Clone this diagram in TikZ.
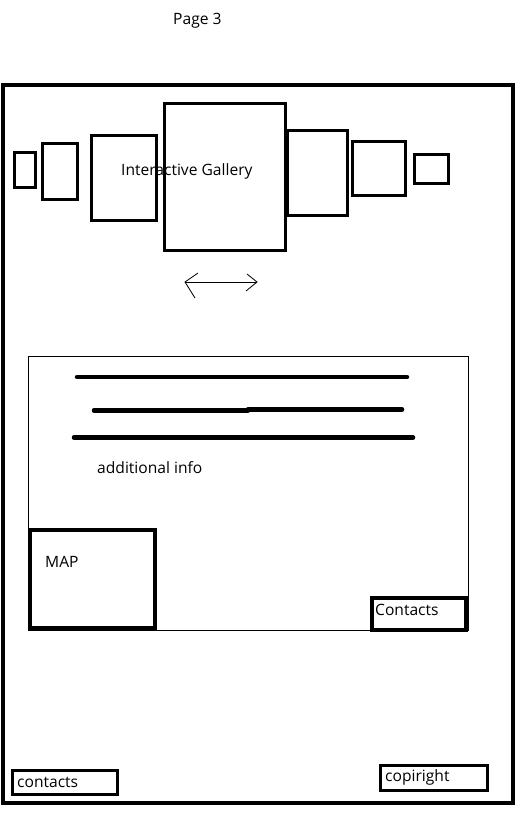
\documentclass[tikz,border=0pt]{standalone}
\usepackage{fontspec}
\setmainfont{Open Sans}
\begin{document}
\begin{tikzpicture}[x=1pt,y=-1pt,
  lbl/.style={anchor=base west,inner sep=0pt,font=\fontsize{15.6}{18}\selectfont},
  bar/.style={line width=4.5pt,line cap=round}]
\useasboundingbox (0,0) rectangle (521,816);
% page title
\node[lbl] (title) at (173,25) {Page 3};
% outer frame
\draw[line width=4pt] (2.5,84.5) rectangle (512.5,802.5);
% gallery frames
\draw[line width=3pt] (14.5,152) rectangle (35,187.5) coordinate (g1);
\draw[line width=3pt] (42.5,143) rectangle (77.5,199.5) coordinate (g2);
\draw[line width=3pt] (91.5,135.5) rectangle (156.5,220) coordinate (g3);
\draw[line width=3pt] (164.5,103.5) rectangle (285.5,250.5) coordinate (g4);
\draw[line width=3pt] (287.5,130.5) rectangle (347.5,215) coordinate (g5);
\draw[line width=3pt] (352.5,141.5) rectangle (405.5,195.5) coordinate (g6);
\draw[line width=3pt] (414,154) rectangle (448.5,183) coordinate (g7);
\node[lbl] (gal) at (121,175) {Interactive Gallery};
% scroll arrow
\coordinate (al) at (185,282);
\coordinate (ar) at (257,282);
\draw[line width=1pt] (al) -- (ar);
\draw[line width=0.8pt] (198,273) -- (al) -- (195,298);
\draw[line width=0.8pt] (247,274) -- (ar) -- (246,291);
% info box
\draw[line width=1pt] (28.5,356.5) rectangle (468.5,630);
\draw[bar] (77,377) -- (407,377);
\draw[bar] (94,410.5) -- (248,410.5);
\draw[bar] (248,409.5) -- (402,409.5);
\draw[bar] (74,437.5) -- (413,437.5);
\node[lbl] (info) at (97,473) {additional info};
% map
\draw[line width=4pt] (30,530) rectangle (155,628);
\node[lbl] (map) at (45,567) {MAP};
% contacts box
\draw[line width=4pt] (372,598) rectangle (466,630);
\node[lbl] (cont) at (375,615) {Contacts};
% footer
\draw[line width=3pt] (12.5,770.5) rectangle (117,794);
\node[lbl] (fcont) at (17,787.5) {contacts};
\draw[line width=3pt] (380.5,765) rectangle (487,790.5);
\node[lbl] (copy) at (385,781.5) {copiright};
\end{tikzpicture}
\end{document}
